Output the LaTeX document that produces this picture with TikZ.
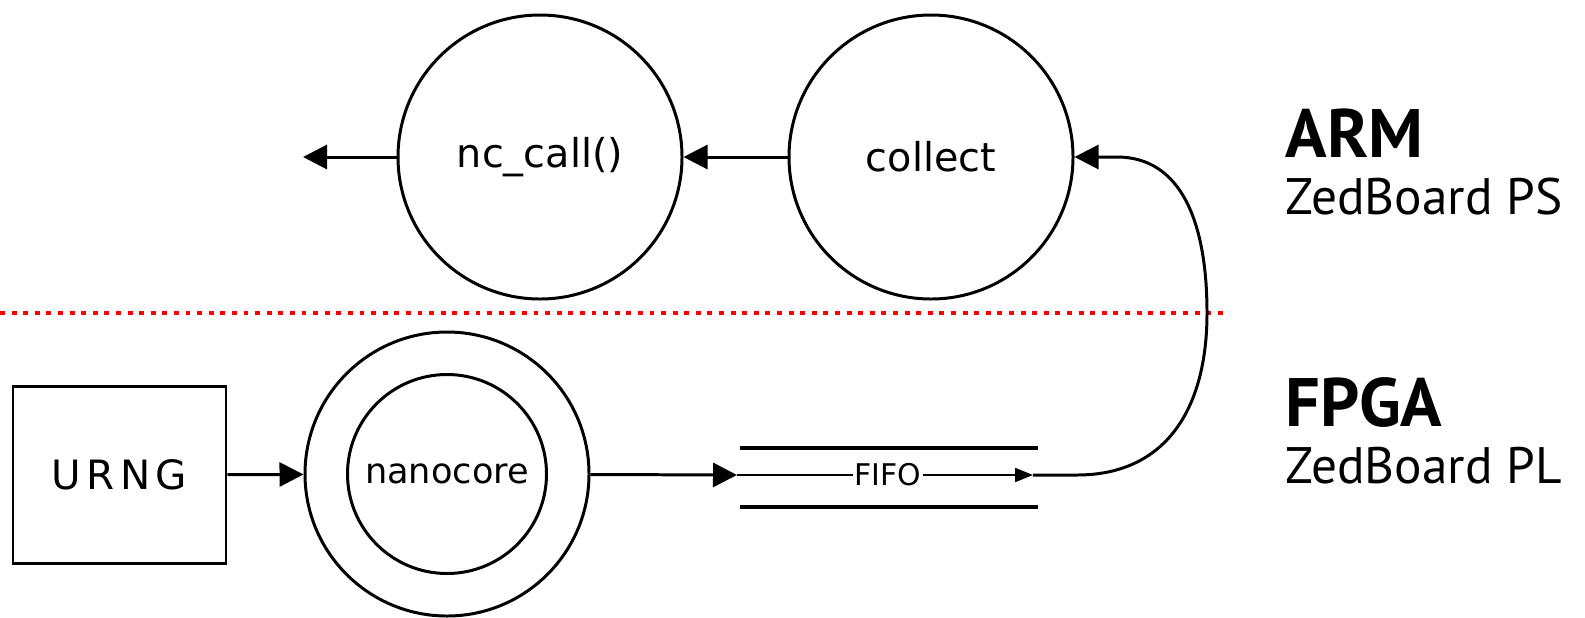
\documentclass[tikz,border=0pt]{standalone}
\usepackage{fontspec}
\setmainfont{PT Sans}
\newfontfamily\dejavu{DejaVu Sans}
\usetikzlibrary{positioning,arrows.meta}

\begin{document}
\begin{tikzpicture}[
        proc/.style={circle, draw, line width=0.85pt, minimum size=2.84cm, inner sep=0pt,
            font=\dejavu\fontsize{11.3}{13}\selectfont},
        flow/.style={draw, line width=0.85pt, -{Triangle[length=0.24cm, width=0.24cm]}},
        fifoflow/.style={draw, line width=0.55pt, -{Triangle[length=0.18cm, width=0.14cm]}},
        bar/.style={draw, line width=1.3pt},
        title/.style={anchor=base west, inner sep=0pt, font=\bfseries\fontsize{19.5}{22}\selectfont},
        sub/.style={anchor=base west, inner sep=0pt, font=\fontsize{14.6}{17}\selectfont},
        >=latex
    ]
    \useasboundingbox (0,0) rectangle (15.85,-6.17);

    % ARM side
    \node[proc] (ncall) at (5.40,-1.57) {nc\_call()};
    \node[proc] (collect) at (9.31,-1.57) {collect};
    \coordinate (out) at (3.03,-1.57);

    % FPGA side
    \node[draw, line width=0.85pt, minimum width=2.13cm, minimum height=1.77cm,
        font=\dejavu\fontsize{11.5}{13}\selectfont] (urng) at (1.195,-4.75) {U\kern1.5pt R\kern1.5pt N\kern1.5pt G};
    \node[proc] (nano) at (4.47,-4.74) {};
    \node[proc, minimum size=1.99cm, font=\dejavu\fontsize{10}{12}\selectfont] (core) at (nano.center) {nanocore};
    \coordinate (fifoin) at (7.37,-4.75);
    \coordinate (fifoout) at (10.33,-4.75);
    \draw[bar] (7.40,-4.48) -- (10.38,-4.48);
    \draw[bar] (7.40,-5.07) -- (10.38,-5.07);

    % partition line
    \draw[red, line width=1.4pt, dash pattern=on 1.4pt off 1.9pt] (0,-3.13) -- (12.28,-3.13);

    % connectors
    \draw[flow] (urng) -- (nano);
    \draw[flow] (nano) -- (fifoin);
    \draw[fifoflow] (fifoin) -- (fifoout);
    \node[fill=white, inner sep=0.5pt, font=\dejavu\fontsize{8.5}{10}\selectfont] (fifo) at (8.88,-4.75) {FIFO};
    \draw[flow] (fifoout) -- (10.77,-4.75)
        .. controls (11.65,-4.75) and (12.07,-4.1) .. (12.07,-3.13)
        .. controls (12.07,-2.2) and (11.8,-1.57) .. (11.17,-1.57) -- (collect);
    \draw[flow] (collect) -- (ncall);
    \draw[flow] (ncall) -- (out);

    % labels
    \node[title] (arm) at (12.85,-1.57) {ARM};
    \node[sub] (ps) at (12.85,-2.14) {ZedBoard PS};
    \node[title] (fpga) at (12.85,-4.26) {FPGA};
    \node[sub] (pl) at (12.85,-4.83) {ZedBoard PL};
\end{tikzpicture}
\end{document}
